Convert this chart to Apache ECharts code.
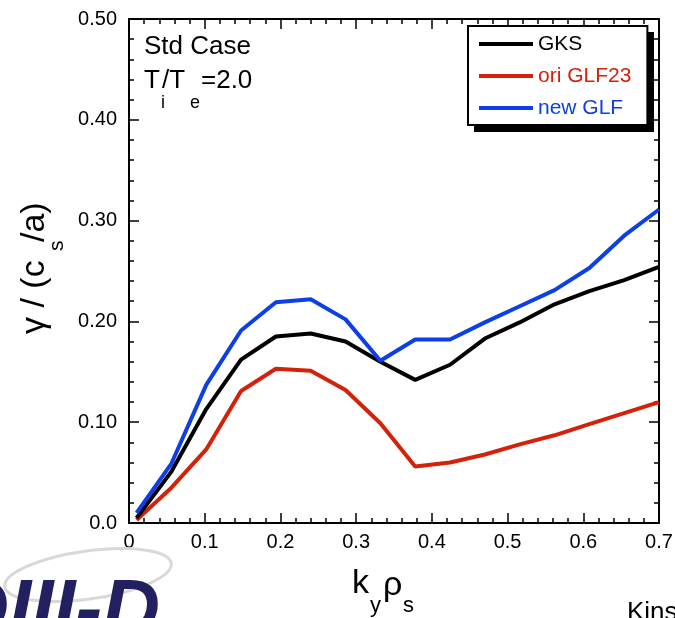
<!DOCTYPE html>
<html>
<head>
<meta charset="utf-8">
<script src="https://cdn.jsdelivr.net/npm/echarts@6/dist/echarts.min.js"></script>
<style>
html,body{margin:0;padding:0;background:#fff;}
#c{width:675px;height:618px;}
</style>
</head>
<body>
<div id="c"></div>
<script>
// ---- data ----
const kyRho = [0.01, 0.056, 0.102, 0.148, 0.194, 0.24, 0.286, 0.332, 0.378, 0.424, 0.47, 0.516, 0.562, 0.608, 0.654, 0.7];
const gks    = [0.005, 0.051, 0.113, 0.162, 0.185, 0.188, 0.180, 0.160, 0.142, 0.157, 0.183, 0.199, 0.217, 0.230, 0.241, 0.254];
const oriGLF = [0.003, 0.035, 0.073, 0.131, 0.153, 0.151, 0.132, 0.099, 0.056, 0.060, 0.068, 0.078, 0.087, 0.098, 0.109, 0.120];
const newGLF = [0.010, 0.059, 0.137, 0.191, 0.219, 0.222, 0.202, 0.161, 0.182, 0.182, 0.199, 0.215, 0.231, 0.253, 0.285, 0.311];
const seriesNames = ['GKS', 'ori GLF23', 'new GLF'];
const xTicks = [0, 0.1, 0.2, 0.3, 0.4, 0.5, 0.6, 0.7];
const yTicks = [0, 0.1, 0.2, 0.3, 0.4, 0.5];

const FONT = '"Liberation Sans", Arial, Helvetica, sans-serif';
const colors = { 'GKS': '#000000', 'ori GLF23': '#d4220a', 'new GLF': '#0c3fe4' };

function pairs(xs, ys) { return xs.map((x, i) => [x, ys[i]]); }

const axisCommon = {
  type: 'value',
  axisLine: { show: true, onZero: false, lineStyle: { color: '#000', width: 2 } },
  axisTick: { show: true, inside: true, length: 10, lineStyle: { color: '#000', width: 1.5 } },
  minorTick: { show: true, splitNumber: 5, length: 5, lineStyle: { color: '#000', width: 1.5 } },
  splitLine: { show: false },
  minorSplitLine: { show: false }
};

const xMin = xTicks[0], xMax = xTicks[xTicks.length - 1];
const yMin = yTicks[0], yMax = yTicks[yTicks.length - 1];

const chart = echarts.init(document.getElementById('c'), null, { renderer: 'canvas' });

function txt(text, x, y, size, opts) {
  opts = opts || {};
  return {
    type: 'text', x: x, y: y, rotation: opts.rotation || 0, z: 100,
    style: {
      text: text, fill: opts.color || '#000',
      font: (opts.weight || 'normal') + ' ' + size + 'px ' + FONT,
      align: opts.align || 'left', verticalAlign: 'middle'
    }
  };
}

const R = Math.PI / 2;
const graphics = [
  // legend drop shadow (decoration behind the legend box)
  { type: 'rect', shape: { x: 474, y: 32, width: 180, height: 100 }, style: { fill: '#000' }, z: 1, silent: true },
  // logo swoosh
  { type: 'ellipse', shape: { cx: 88, cy: 575, rx: 84, ry: 24 }, rotation: 0.14, originX: 88, originY: 575,
    style: { fill: null, stroke: '#d8d8d8', lineWidth: 3 }, z: 1 },
  { type: 'text', x: 160, y: 613, z: 2,
    style: { text: 'DIII-D', fill: '#22205e', font: 'italic 900 80px ' + FONT, align: 'right', verticalAlign: 'middle' } },
  // footer text
  txt('Kinsey', 627, 613, 26),
  // annotation
  txt('Std Case', 144, 47, 26),
  txt('T', 144, 81, 26),
  txt('/T', 162, 81, 26),
  txt('=2.0', 201, 81, 26),
  txt('i', 161, 103, 18),
  txt('e', 190, 103, 18),
  // x axis name
  txt('k', 352, 584, 34),
  txt('y', 370, 606, 22),
  txt('\u03c1', 383, 586, 34),
  txt('s', 403, 606, 22),
  // y axis name (rotated)
  txt('\u03b3 / (c', 35, 334, 34, { rotation: R }),
  txt('s', 57, 251, 21, { rotation: R }),
  txt('/a)', 35, 242, 34, { rotation: R })
];

const option = {
  animation: false,
  backgroundColor: '#ffffff',
  grid: { left: 129, right: 16, top: 19, bottom: 95, containLabel: false, outerBoundsMode: 'none' },
  legend: {
    orient: 'vertical', left: 468, top: 26, z: 10,
    padding: [7, 16, 6, 11],
    itemWidth: 54, itemHeight: 4, itemGap: 10,
    icon: 'rect',
    backgroundColor: '#ffffff', borderColor: '#000', borderWidth: 2,
    textStyle: { fontFamily: FONT, fontSize: 21, lineHeight: 22 },
    data: seriesNames.map(n => ({ name: n, textStyle: { color: colors[n] } })),
    selectedMode: false
  },
  xAxis: [
    Object.assign({}, axisCommon, {
      position: 'bottom', min: xMin, max: xMax, interval: 0.1,
      axisLabel: { color: '#000', fontFamily: FONT, fontSize: 20, margin: 9,
        formatter: v => (Math.abs(v) < 1e-9 ? '0' : v.toFixed(1)) }
    }),
    Object.assign({}, axisCommon, {
      position: 'top', min: xMin, max: xMax, interval: 0.1,
      axisLabel: { show: false }
    })
  ],
  yAxis: [
    Object.assign({}, axisCommon, {
      position: 'left', min: yMin, max: yMax, interval: 0.1,
      axisLabel: { color: '#000', fontFamily: FONT, fontSize: 20, margin: 12,
        formatter: v => (Math.abs(v) < 1e-9 ? '0.0' : v.toFixed(2)) }
    }),
    Object.assign({}, axisCommon, {
      position: 'right', min: yMin, max: yMax, interval: 0.1,
      axisLabel: { show: false }
    })
  ],
  series: [
    { name: 'ori GLF23', type: 'line', data: pairs(kyRho, oriGLF), symbol: 'none', showSymbol: false,
      lineStyle: { color: colors['ori GLF23'], width: 4 }, itemStyle: { color: colors['ori GLF23'] }, z: 3 },
    { name: 'GKS', type: 'line', data: pairs(kyRho, gks), symbol: 'none', showSymbol: false,
      lineStyle: { color: colors['GKS'], width: 4 }, itemStyle: { color: colors['GKS'] }, z: 4 },
    { name: 'new GLF', type: 'line', data: pairs(kyRho, newGLF), symbol: 'none', showSymbol: false,
      lineStyle: { color: colors['new GLF'], width: 4 }, itemStyle: { color: colors['new GLF'] }, z: 5 }
  ],
  graphic: graphics
};
chart.setOption(option);
</script>
</body>
</html>
